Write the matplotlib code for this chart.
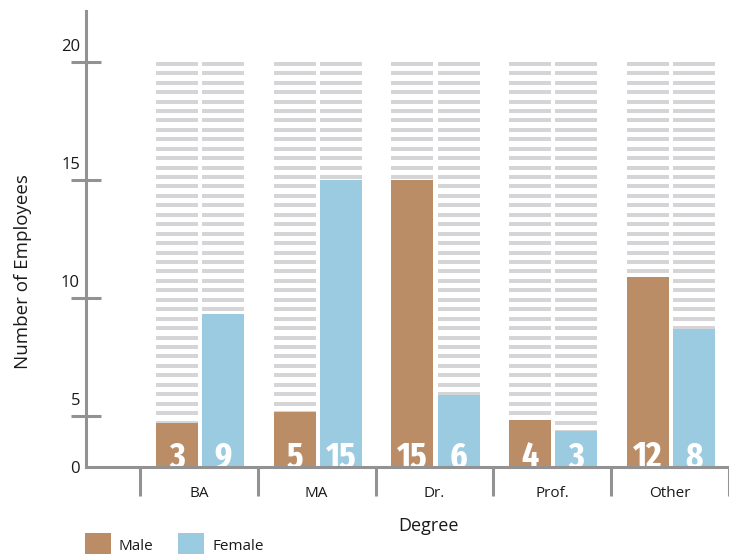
import matplotlib
matplotlib.use("Agg")
import matplotlib.pyplot as plt
from matplotlib.patches import Rectangle
from matplotlib import font_manager as fm
import numpy as np

# ---- data ----
categories = ["BA", "MA", "Dr.", "Prof.", "Other"]
male_heights = [4.70, 5.16, 15.0, 4.82, 10.88]      # bar heights as drawn
female_heights = [9.31, 14.99, 5.88, 4.35, 8.67]
male_labels = ["3", "5", "15", "4", "12"]            # printed labels
female_labels = ["9", "15", "6", "3", "8"]
ytick_values = [5, 10, 15, 20]
ytick_labels = ["5", "10", "15", "20"]
series_names = ["Male", "Female"]

MALE_C = "#BB8D67"
FEMALE_C = "#9BCBE0"
STRIPE_C = "#D5D5D7"
AXIS_C = "#929292"
TEXT_C = "#1a1a1a"


def pick_condensed_bold():
    entries = fm.fontManager.ttflist
    prefs = ["extracondensed", "narrow", "condensed"]
    for key in prefs:
        cands = []
        for e in entries:
            tag = (e.name + " " + e.fname).lower().replace("-", "").replace("_", "").replace(" ", "")
            if key in tag and "semi" not in tag and "italic" not in tag and "oblique" not in tag:
                w = e.weight if isinstance(e.weight, int) else 400
                if w >= 600 or "bold" in tag:
                    cands.append(e)
        if cands:
            cands.sort(key=lambda e: abs((e.weight if isinstance(e.weight, int) else 700) - 700))
            return fm.FontProperties(fname=cands[0].fname)
    return fm.FontProperties(family="DejaVu Sans", weight="bold", stretch="condensed")


num_fp = pick_condensed_bold()

W, H = 729, 554
fig = plt.figure(figsize=(W / 100, H / 100), dpi=100)
ax = fig.add_axes([86 / W, 87 / H, 643 / W, 456 / H])

y0, y1 = 2.83, 22.15
ax.set_ylim(y0, y1)
ax.set_xlim(-0.958, 4.5)

x = np.arange(len(categories))
bw = 0.357
xm = x - 0.187
xf = x + 0.205

# striped background columns
stripe_top = 20.0
period = 0.40
thick = 0.17
k = 0
while True:
    b = stripe_top - thick - k * period
    if b + thick <= y0:
        break
    for xs in (xm, xf):
        ax.bar(xs, thick, bottom=b, width=bw, color=STRIPE_C, zorder=1, linewidth=0)
    k += 1

ax.bar(xm, np.array(male_heights) - y0, bottom=y0, width=bw, color=MALE_C, zorder=2, linewidth=0)
ax.bar(xf, np.array(female_heights) - y0, bottom=y0, width=bw, color=FEMALE_C, zorder=2, linewidth=0)

for xs, labs in ((xm, male_labels), (xf, female_labels)):
    for xi, lab in zip(xs, labs):
        t = ax.text(xi, y0, lab, ha="center", va="baseline", color="white",
                    fontproperties=num_fp, zorder=2.3)
        t.set_fontsize(26)

# spines
for s in ("top", "right"):
    ax.spines[s].set_visible(False)
for s in ("left", "bottom"):
    ax.spines[s].set_color(AXIS_C)
    ax.spines[s].set_linewidth(2.2)
    ax.spines[s].set_zorder(2.5)

# y ticks
ax.set_yticks(ytick_values)
ax.set_yticklabels([])
ax.tick_params(axis="y", direction="inout", length=21, width=2.2, color=AXIS_C)
for v, lab in zip(ytick_values, ytick_labels):
    ax.annotate(lab, xy=(0, v), xycoords=("axes fraction", "data"),
                xytext=(-6, 15), textcoords="offset pixels",
                ha="right", va="center", fontsize=12, color=TEXT_C, family="Open Sans")
ax.annotate("0", xy=(0, y0), xycoords=("axes fraction", "data"),
            xytext=(-6, -2), textcoords="offset pixels",
            ha="right", va="center", fontsize=12, color=TEXT_C, family="Open Sans")

# x ticks: boundaries (major) and category labels (minor)
ax.set_xticks(np.arange(-0.5, 5.0, 1.0))
ax.set_xticklabels([])
ax.tick_params(axis="x", which="major", direction="out", length=21, width=2.2, color=AXIS_C)
ax.set_xticks(x, minor=True)
ax.set_xticklabels(categories, minor=True, fontsize=11, color=TEXT_C, family="Open Sans")
ax.tick_params(axis="x", which="minor", length=0, pad=14)

fig.text(23 / W, 1 - 272 / H, "Number of Employees", rotation=90, ha="center", va="center",
         fontsize=13.5, color=TEXT_C, family="Open Sans")
fig.text(429 / W, 1 - 526 / H, "Degree", ha="center", va="center",
         fontsize=13, color=TEXT_C, family="Open Sans")

# legend
for (lx, tx), name, col in zip(((85, 118), (178, 213)), series_names, (MALE_C, FEMALE_C)):
    fig.patches.append(Rectangle((lx / W, 0), 26 / W, 21 / H, transform=fig.transFigure,
                                 facecolor=col, edgecolor="none"))
    fig.text(tx / W, 1 - 546 / H, name, ha="left", va="center", fontsize=11,
             color=TEXT_C, family="Open Sans")

fig.savefig("out.png", dpi=100)
